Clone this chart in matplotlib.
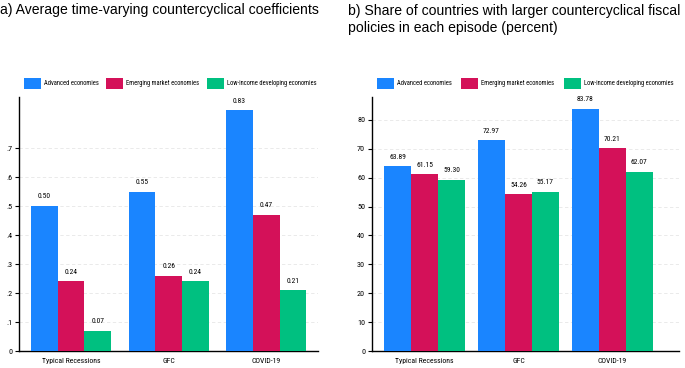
import matplotlib
matplotlib.use("Agg")
import matplotlib.pyplot as plt
import numpy as np
from matplotlib.patches import Rectangle

categories = ["Typical Recessions", "GFC", "COVID-19"]
series_names = ["Advanced economies", "Emerging market economies", "Low-income developing economies"]
coef_adv = [0.50, 0.55, 0.83]
coef_em = [0.24, 0.26, 0.47]
coef_lidc = [0.07, 0.24, 0.21]
share_adv = [63.89, 72.97, 83.78]
share_em = [61.15, 54.26, 70.21]
share_lidc = [59.30, 55.17, 62.07]
left_ticks = [0, 0.1, 0.2, 0.3, 0.4, 0.5, 0.6, 0.7]
left_ticklabels = ["0", ".1", ".2", ".3", ".4", ".5", ".6", ".7"]
right_ticks = [0, 10, 20, 30, 40, 50, 60, 70, 80]

colors = ["#1A85FF", "#D41159", "#00C080"]

plt.rcParams['font.family'] = ['Liberation Sans', 'DejaVu Sans']
small_family = ['Roboto Condensed', 'Liberation Sans', 'DejaVu Sans']

W, H = 685, 368
fig = plt.figure(figsize=(W/100, H/100), dpi=100)
axL = fig.add_axes([19/W, 17/H, (318-19)/W, (351-97)/H])
axR = fig.add_axes([372/W, 17/H, (679-372)/W, (351-97)/H])


def draw(ax, data, width, xlim, ylim, ticks, ticklabels, fmt):
    x = np.arange(len(categories))
    for i, (vals, c) in enumerate(zip(data, colors)):
        pos = x + (i - 1) * width
        ax.bar(pos, vals, width=width, color=c, zorder=3)
        for p, v in zip(pos, vals):
            ax.text(p, v + (ylim[1] * 0.022), fmt.format(v), ha='center', va='bottom',
                    fontsize=5.4, family=small_family, zorder=4)
    ax.set_xlim(*xlim)
    ax.set_ylim(*ylim)
    ax.set_xticks(x)
    ax.set_xticklabels(categories, fontsize=5.6, family=small_family)
    ax.set_yticks(ticks)
    ax.set_yticklabels(ticklabels, fontsize=5.9, family=small_family)
    ax.tick_params(axis='x', length=0, pad=5)
    ax.tick_params(axis='y', length=3, width=0.8, pad=2)
    for s in ['top', 'right']:
        ax.spines[s].set_visible(False)
    for s in ['left', 'bottom']:
        ax.spines[s].set_linewidth(1.0)
    ax.grid(axis='y', color='#E6E6E6', linestyle=(0, (4, 3)), linewidth=0.6, zorder=0)


draw(axL, [coef_adv, coef_em, coef_lidc], 0.274, (-0.533, 2.53), (0, 0.876),
     left_ticks, left_ticklabels, "{:.2f}")
draw(axR, [share_adv, share_em, share_lidc], 0.287, (-0.56, 2.71), (0, 87.9),
     right_ticks, [str(t) for t in right_ticks], "{:.2f}")

# legends (pixel positions of swatch/label starts, per panel)
legend_slots = [[24, 106, 207], [377, 461, 564]]
for slots in legend_slots:
    for sx, name, c in zip(slots, series_names, colors):
        fig.add_artist(Rectangle((sx / W, 1 - 89 / H), 17 / W, 11 / H,
                                 transform=fig.transFigure, facecolor=c, edgecolor='none'))
        fig.text((sx + 20) / W, 1 - 83.5 / H, name, fontsize=4.7, family=small_family,
                 ha='left', va='center')

fig.text(0.0, 1 - 10/H, "a) Average time-varying countercyclical coefficients",
         fontsize=10.1, ha='left', va='center')
fig.text(348/W, 1 - 19.5/H, "b) Share of countries with larger countercyclical fiscal\npolicies in each episode (percent)",
         fontsize=10.1, ha='left', va='center', linespacing=1.3)

fig.savefig("out.png", dpi=100)
